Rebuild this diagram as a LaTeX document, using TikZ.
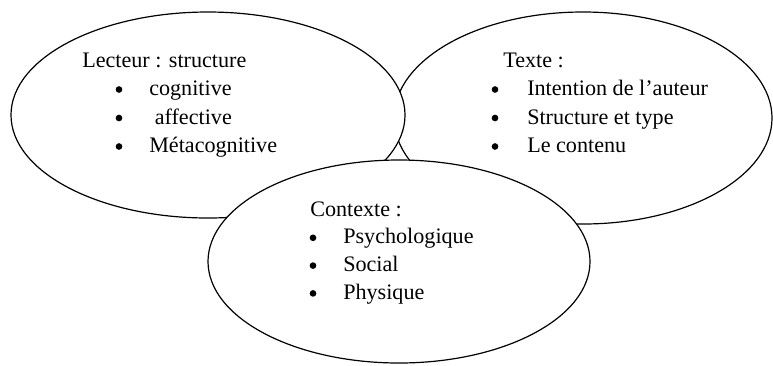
\documentclass[tikz,border=0pt]{standalone}
\usepackage{fontspec}
\setmainfont{Liberation Serif}
\usetikzlibrary{shapes.geometric}

\tikzset{
  zone/.style={ellipse,draw,fill=white,line width=0.9pt},
  titre/.style={anchor=base west,inner sep=0pt},
  puce/.style={circle,fill,inner sep=0pt,minimum size=5pt},
}

\begin{document}
\begin{tikzpicture}[x=0.75pt,y=-0.75pt,font=\fontsize{16.6}{21}\selectfont]
    \useasboundingbox (0,0) rectangle (773,365);
    % les trois zones, de l'arriere vers l'avant
    \node[zone,minimum width=283.5pt,minimum height=159pt] (texte) at (583,118) {};
    \node[zone,minimum width=295.5pt,minimum height=154.5pt] (lecteur) at (208,115) {};
    \node[zone,minimum width=286.5pt,minimum height=152.25pt] (contexte) at (399,261.5) {};
    % Lecteur
    \node[titre] (lecteur0) at (82,67) {Lecteur : structure};
    \foreach \i/\t in {1/cognitive,2/{\ affective},3/Métacognitive} {
        \node[puce] (lecteurp\i) at (119,61+28.5*\i) {};
        \node[titre] (lecteur\i) at (149,67+28.5*\i) {\t};
    }
    % Texte
    \node[titre] (texte0) at (503,67) {Texte :};
    \foreach \i/\t in {1/Intention de l’auteur,2/Structure et type,3/Le contenu} {
        \node[puce] (textep\i) at (495,61+28.5*\i) {};
        \node[titre] (texte\i) at (527,67+28.5*\i) {\t};
    }
    % Contexte
    \node[titre] (contexte0) at (310,216) {Contexte :};
    \foreach \i/\t in {1/Psychologique,2/Social,3/Physique} {
        \node[puce] (contextep\i) at (313,210+27.8*\i) {};
        \node[titre] (contexte\i) at (343,216+27.8*\i) {\t};
    }
\end{tikzpicture}
\end{document}
